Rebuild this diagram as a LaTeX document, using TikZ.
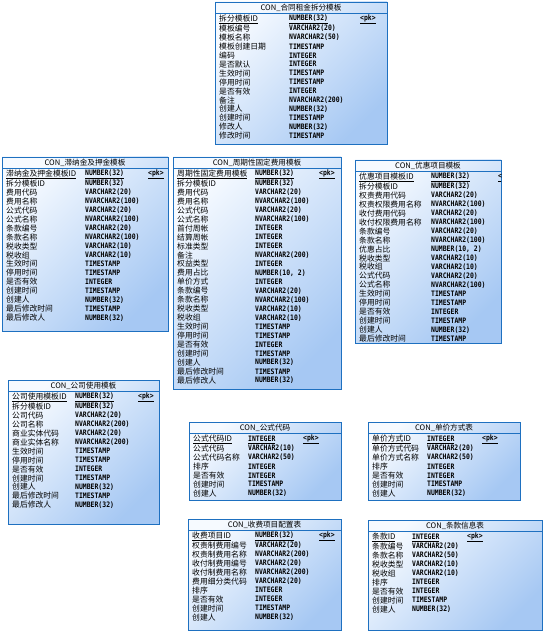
\documentclass[tikz,border=0pt]{standalone}
\usepackage{fontspec}
\setmainfont{Noto Sans CJK SC}
\newfontfamily\typefont[FakeStretch=0.86]{DejaVu Sans Mono}
\usepackage{xcolor}
\usepackage{tikz}
\usetikzlibrary{calc}
\definecolor{tblborder}{RGB}{30,112,192}
\definecolor{tbllight}{RGB}{246,250,255}
\definecolor{tbldark}{RGB}{166,200,243}
\tikzset{
  tbl/.style={draw=tblborder, line width=0.9pt, inner sep=0pt, outer sep=0pt,
    top color=tbllight, bottom color=tbldark, shading angle=45},
  tbltitle/.style={inner sep=0pt, font=\fontsize{7.6}{9}\selectfont},
  tblline/.style={draw=tblborder, line width=0.7pt},
  fld/.style={anchor=west, inner sep=0pt, font=\fontsize{7.8}{9}\selectfont},
  ftype/.style={fld, font=\fontsize{7.5}{9}\typefont\bfseries}
}
% #1 name, #2 x, #3 y, #4 width, #5 height, #6 title, #7 type column, #8 pk column, #9 rows
\newcommand{\dbtable}[9]{%
  \node[tbl, anchor=north west, minimum width=#4, minimum height=#5] (#1) at (#2,#3) {};
  \node[tbltitle] (#1-title) at ($(#1.north)+(0,6)$) {#6};
  \draw[tblline] ($(#1.north west)+(0,11)$) -- ($(#1.north east)+(0,11)$);
  \begin{scope}
    \clip (#1.north west) rectangle (#1.south east);
    \foreach \fname/\ftype [count=\i] in {#9} {
      \ifnum\i=1
        \node[fld] (#1-n\i) at ($(#1.north west)+(4,{17.5+(\i-1)*8.95})$) {\underline{\fname}};
        \node[ftype] (#1-t\i) at ($(#1.north west)+(#7,{17.5+(\i-1)*8.95})$) {\underline{\ftype}};
        \node[ftype] (#1-pk) at ($(#1.north west)+(#8,{17.5+(\i-1)*8.95})$) {\underline{<pk>}};
      \else
        \node[fld] (#1-n\i) at ($(#1.north west)+(4,{17.5+(\i-1)*8.95})$) {\fname};
        \node[ftype] (#1-t\i) at ($(#1.north west)+(#7,{17.5+(\i-1)*8.95})$) {\ftype};
      \fi
    }
  \end{scope}
}

\begin{document}
\begin{tikzpicture}[x=1pt, y=-1pt]
  \useasboundingbox (0,0) rectangle (543,631);
  % Split template
  \dbtable{split}{215}{2}{172}{142}{CON\_合同租金拆分模板}{74}{145}{
    拆分模板ID/NUMBER(32), 模板编号/VARCHAR2(20), 模板名称/NVARCHAR2(50),
    模板创建日期/TIMESTAMP, 编码/INTEGER, 是否默认/INTEGER, 生效时间/TIMESTAMP,
    停用时间/TIMESTAMP, 是否有效/INTEGER, 备注/NVARCHAR2(200), 创建人/NUMBER(32),
    创建时间/TIMESTAMP, 修改人/NUMBER(32), 修改时间/TIMESTAMP}
  % Late fee and deposit
  \dbtable{late}{2}{157}{166}{174}{CON\_滞纳金及押金模板}{83}{146}{
    滞纳金及押金模板ID/NUMBER(32), 拆分模板ID/NUMBER(32), 费用代码/VARCHAR2(20),
    费用名称/NVARCHAR2(100), 公式代码/VARCHAR2(20), 公式名称/NVARCHAR2(100),
    条款编号/VARCHAR2(20), 条款名称/NVARCHAR2(100), 税收类型/VARCHAR2(10),
    税收组/VARCHAR2(10), 生效时间/TIMESTAMP, 停用时间/TIMESTAMP, 是否有效/INTEGER,
    创建时间/TIMESTAMP, 创建人/NUMBER(32), 最后修改时间/TIMESTAMP, 最后修改人/NUMBER(32)}
  % Periodic fixed fee
  \dbtable{periodic}{173}{157}{168}{232}{CON\_周期性固定费用模板}{82}{146}{
    周期性固定费用模板/NUMBER(32), 拆分模板ID/NUMBER(32), 费用代码/VARCHAR2(20),
    费用名称/NVARCHAR2(100), 公式代码/VARCHAR2(20), 公式名称/NVARCHAR2(100),
    首付周帐/INTEGER, 结算周帐/INTEGER, 标准类型/INTEGER, 备注/NVARCHAR2(200),
    权益类型/INTEGER, 费用占比/{NUMBER(10, 2)}, 单价方式/INTEGER, 条款编号/VARCHAR2(20),
    条款名称/NVARCHAR2(100), 税收类型/VARCHAR2(10), 税收组/VARCHAR2(10),
    生效时间/TIMESTAMP, 停用时间/TIMESTAMP, 是否有效/INTEGER, 创建时间/TIMESTAMP,
    创建人/NUMBER(32), 最后修改时间/TIMESTAMP, 最后修改人/NUMBER(32)}
  % Discount items
  \dbtable{discount}{355}{160}{146}{183}{CON\_优惠项目模板}{76}{143}{
    优惠项目模板ID/NUMBER(32), 拆分模板ID/NUMBER(32), 权责费用代码/VARCHAR2(20),
    权责权限费用名称/NVARCHAR2(100), 收付费用代码/VARCHAR2(20),
    收付权限费用名称/NVARCHAR2(100), 条款编号/VARCHAR2(20), 条款名称/NVARCHAR2(100),
    优惠占比/{NUMBER(10, 2)}, 税收类型/VARCHAR2(10), 税收组/VARCHAR2(10),
    公式代码/VARCHAR2(20), 公式名称/NVARCHAR2(100), 生效时间/TIMESTAMP,
    停用时间/TIMESTAMP, 是否有效/INTEGER, 创建时间/TIMESTAMP, 创建人/NUMBER(32),
    最后修改时间/TIMESTAMP}
  % Company usage
  \dbtable{company}{8}{380}{151}{144}{CON\_公司使用模板}{67}{130}{
    公司使用模板ID/NUMBER(32), 拆分模板ID/NUMBER(32), 公司代码/VARCHAR2(20),
    公司名称/NVARCHAR2(200), 商业实体代码/VARCHAR2(20), 商业实体名称/NVARCHAR2(200),
    生效时间/TIMESTAMP, 停用时间/TIMESTAMP, 是否有效/INTEGER, 创建时间/TIMESTAMP,
    创建人/NUMBER(32), 最后修改时间/TIMESTAMP, 最后修改人/NUMBER(32)}
  % Formula codes
  \dbtable{formula}{189}{422}{152}{78}{CON\_公式代码}{59}{114}{
    公式代码ID/INTEGER, 公式代码/VARCHAR2(10), 公式代码名称/VARCHAR2(50),
    排序/INTEGER, 是否有效/INTEGER, 创建时间/TIMESTAMP, 创建人/NUMBER(32)}
  % Unit price modes
  \dbtable{price}{368}{422}{152}{78}{CON\_单价方式表}{59}{114}{
    单价方式ID/INTEGER, 单价方式代码/VARCHAR2(20), 单价方式名称/VARCHAR2(50),
    排序/INTEGER, 是否有效/INTEGER, 创建时间/TIMESTAMP, 创建人/NUMBER(32)}
  % Fee item config
  \dbtable{fee}{188}{519}{153}{111}{CON\_收费项目配置表}{67}{131}{
    收费项目ID/NUMBER(32), 权责制费用编号/VARCHAR2(20), 权责制费用名称/NVARCHAR2(200),
    收付制费用编号/VARCHAR2(20), 收付制费用名称/NVARCHAR2(200),
    费用细分类代码/VARCHAR2(20), 排序/INTEGER, 是否有效/INTEGER,
    创建时间/TIMESTAMP, 创建人/NUMBER(32)}
  % Clauses
  \dbtable{clause}{368}{520}{174}{110}{CON\_条款信息表}{44}{99}{
    条款ID/INTEGER, 条款编号/VARCHAR2(20), 条款名称/VARCHAR2(50),
    税收类型/VARCHAR2(10), 税收组/VARCHAR2(10), 排序/INTEGER, 是否有效/INTEGER,
    创建时间/TIMESTAMP, 创建人/NUMBER(32)}
\end{tikzpicture}
\end{document}
